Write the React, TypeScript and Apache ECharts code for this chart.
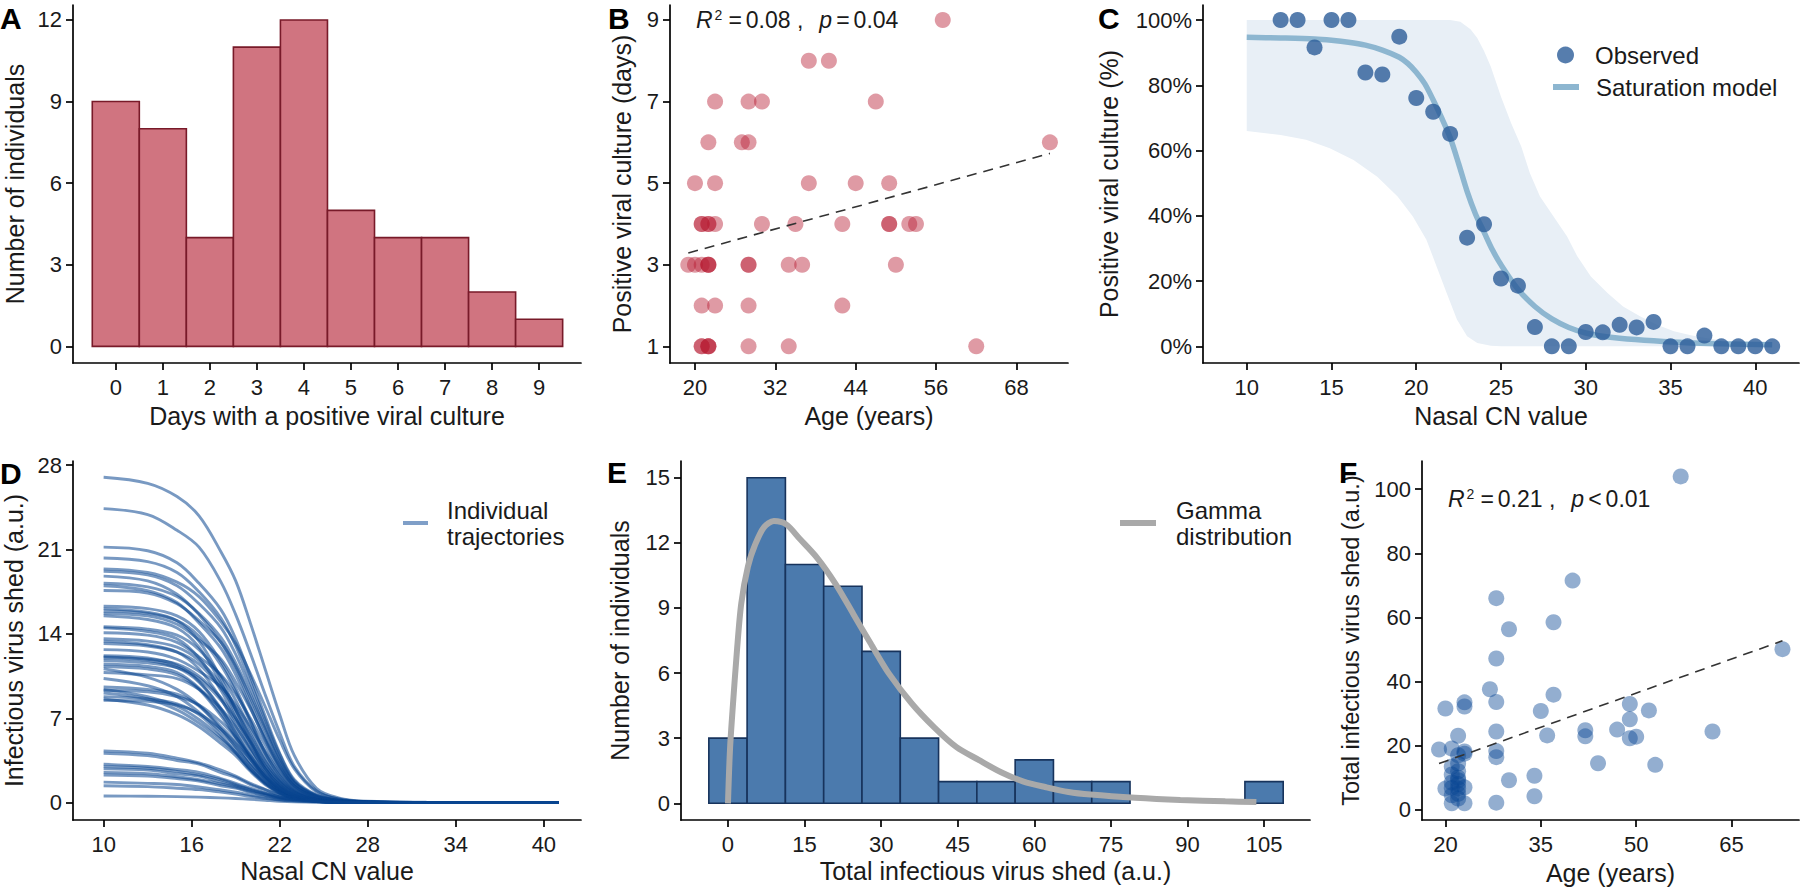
import React, { useEffect, useRef } from 'react';
import * as echarts from 'echarts';

// ---------------- Panel A: histogram of positive culture days
const daysA = [0, 1, 2, 3, 4, 5, 6, 7, 8, 9];
const countsA = [9, 8, 4, 11, 12, 5, 4, 4, 2, 1];
const binWidthA = 1;

// ---------------- Panel B: age vs positive culture days
const ageB = [
  21, 21, 22, 22, 22, 28, 34, 62,
  21, 23, 28, 42,
  19, 20, 21, 22, 22, 22, 28, 28, 34, 36, 50,
  21, 21, 22, 22, 23, 30, 35, 42, 49, 49, 52, 53,
  20, 23, 37, 44, 49,
  22, 27, 28, 73,
  23, 28, 30, 47,
  37, 40,
  57,
];
const daysB = [
  1, 1, 1, 1, 1, 1, 1, 1,
  2, 2, 2, 2,
  3, 3, 3, 3, 3, 3, 3, 3, 3, 3, 3,
  4, 4, 4, 4, 4, 4, 4, 4, 4, 4, 4, 4,
  5, 5, 5, 5, 5,
  6, 6, 6, 6,
  7, 7, 7, 7,
  8, 8,
  9,
];
const regLineB = [[19, 3.29], [73, 5.73]];

// ---------------- Panel C: culture positivity vs CN
const cnC = [12, 13, 14, 15, 16, 17, 18, 19, 20, 21, 22, 23, 24, 25, 26, 27, 28, 29, 30, 31, 32, 33, 34, 35, 36, 37, 38, 39, 40, 41];
const pctC = [100, 100, 91.6, 100, 100, 83.9, 83.3, 94.9, 76.1, 71.9, 65.1, 33.3, 37.4, 20.8, 18.6, 5.9, 0, 0, 4.4, 4.3, 6.6, 5.8, 7.5, 0, 0, 3.3, 0, 0, 0, 0];
const satModelC = [
  [10, 94.7], [12, 94.5], [14, 94.2], [15, 93.8], [16, 93.2], [17, 92.3], [18, 90.8], [19, 88.6],
  [19.5, 86.7], [20, 84.0], [20.5, 80.5], [21, 75.5], [21.5, 70.0], [22, 64.0], [22.5, 56.0],
  [23, 47.5], [23.5, 40.5], [24, 35.0], [24.5, 29.5], [25, 25.0], [26, 17.5], [27, 12.2],
  [28, 8.4], [29, 5.8], [30, 4.1], [31, 3.1], [32, 2.5], [34, 1.7], [36, 1.1], [38, 0.8], [41, 0.5],
];
const bandUpperC = [
  [10, 100], [22, 100], [22.6, 99.5], [23.2, 97.2], [23.6, 94.5], [24, 90.5], [24.4, 85.7], [25, 76.5],
  [25.6, 68.4], [26.2, 61.2], [26.7, 53.1], [27.3, 45.9], [28.1, 39.8], [28.9, 33.7], [29.5, 27.6],
  [30.3, 21.4], [31.3, 16.3], [32.2, 12.2], [33.2, 9.2], [34.2, 6.6], [35.2, 4.6], [36.2, 3.4],
  [37, 2.6], [38, 1.8], [40, 0.8], [41, 0.5],
];
const bandLowerC = [
  [10, 66.0], [12, 64.8], [13.5, 63.3], [14.9, 60.7], [16.3, 57.1], [17.7, 52.0], [18.9, 45.9],
  [19.8, 39.8], [20.6, 32.7], [21.2, 24.5], [21.8, 16.3], [22.4, 8.2], [23, 3.1], [23.6, 1.0],
  [24.4, 0.2], [25, 0], [41, 0],
];

// ---------------- Panel D: individual trajectories
const cnGridD = [10, 13, 15, 16.5, 18, 19, 20, 21, 22, 23, 24.5, 26, 28, 32, 41];
const curvesD = [
  [27.0, 26.5, 25.4, 23.8, 20.8, 18.4, 14.9, 11.1, 7.3, 3.9, 1.2, 0.4, 0.11, 0.03, 0],
  [24.4, 23.9, 22.6, 21.2, 18.3, 15.6, 12.4, 9.0, 5.8, 3.0, 1.0, 0.3, 0.08, 0.02, 0],
  [21.2, 20.9, 19.9, 18.2, 16.0, 13.6, 10.5, 7.2, 4.1, 1.9, 0.64, 0.21, 0.06, 0.01, 0],
  [20.3, 20.0, 19.1, 17.5, 15.3, 13.0, 10.0, 6.9, 4.0, 1.8, 0.6, 0.2, 0.06, 0.01, 0],
  [19.4, 19.1, 18.3, 17.1, 15.0, 13.2, 10.7, 8.0, 5.2, 2.8, 0.9, 0.3, 0.08, 0.02, 0],
  [19.2, 18.9, 18.0, 16.5, 14.5, 12.3, 9.5, 6.5, 3.7, 1.7, 0.58, 0.19, 0.06, 0.01, 0],
  [18.8, 18.4, 17.3, 15.6, 13.3, 11.1, 8.3, 5.5, 3.0, 1.4, 0.47, 0.15, 0.04, 0, 0],
  [18.2, 17.9, 17.1, 15.7, 13.7, 11.6, 9.0, 6.2, 3.5, 1.6, 0.55, 0.18, 0.05, 0.01, 0],
  [18.0, 17.6, 16.6, 14.9, 12.8, 10.6, 7.9, 5.2, 2.9, 1.35, 0.45, 0.14, 0.04, 0, 0],
  [17.6, 17.4, 16.5, 15.1, 13.3, 11.3, 8.7, 6.0, 3.4, 1.6, 0.53, 0.18, 0.05, 0.01, 0],
  [16.3, 16.1, 15.5, 14.2, 11.7, 9.5, 6.8, 4.2, 2.3, 1.06, 0.33, 0.11, 0.03, 0, 0],
  [16.1, 15.8, 15.1, 13.4, 10.3, 7.7, 5.2, 2.9, 1.45, 0.64, 0.19, 0.06, 0.02, 0, 0],
  [15.9, 15.7, 15.1, 13.8, 11.4, 9.2, 6.7, 4.1, 2.2, 1.03, 0.32, 0.11, 0.03, 0, 0],
  [15.7, 15.5, 14.8, 13.5, 11.9, 10.0, 7.8, 5.3, 3.1, 1.4, 0.47, 0.16, 0.05, 0, 0],
  [15.5, 15.2, 14.5, 12.9, 9.9, 7.4, 5.0, 2.8, 1.4, 0.62, 0.19, 0.06, 0.02, 0, 0],
  [14.6, 14.4, 13.9, 12.7, 10.5, 8.5, 6.1, 3.8, 2.0, 0.95, 0.29, 0.1, 0.03, 0, 0],
  [14.5, 14.2, 13.6, 12.0, 9.3, 7.0, 4.6, 2.6, 1.3, 0.58, 0.17, 0.06, 0.01, 0, 0],
  [14.1, 13.9, 13.3, 12.1, 10.6, 9.0, 7.0, 4.8, 2.7, 1.3, 0.42, 0.14, 0.04, 0, 0],
  [13.6, 13.4, 12.9, 11.8, 9.8, 7.9, 5.7, 3.5, 1.9, 0.88, 0.27, 0.1, 0.03, 0, 0],
  [13.4, 13.1, 12.5, 11.1, 8.6, 6.4, 4.3, 2.4, 1.2, 0.54, 0.16, 0.05, 0.01, 0, 0],
  [13.2, 13.0, 12.5, 11.5, 9.5, 7.7, 5.5, 3.4, 1.8, 0.86, 0.26, 0.09, 0.03, 0, 0],
  [12.7, 12.5, 11.9, 10.9, 9.6, 8.1, 6.3, 4.3, 2.5, 1.14, 0.38, 0.13, 0.04, 0, 0],
  [12.2, 12.0, 11.4, 10.1, 7.8, 5.9, 3.9, 2.2, 1.1, 0.49, 0.15, 0.05, 0.01, 0, 0],
  [12.1, 11.9, 11.5, 10.5, 8.7, 7.0, 5.1, 3.1, 1.7, 0.79, 0.24, 0.08, 0.02, 0, 0],
  [12.0, 11.8, 11.2, 10.0, 7.7, 5.8, 3.8, 2.2, 1.1, 0.48, 0.14, 0.05, 0.01, 0, 0],
  [11.8, 11.6, 11.2, 10.3, 8.5, 6.8, 5.0, 3.1, 1.65, 0.77, 0.24, 0.08, 0.02, 0, 0],
  [11.5, 11.3, 10.8, 9.5, 7.4, 5.5, 3.7, 2.1, 1.0, 0.46, 0.14, 0.05, 0.01, 0, 0],
  [11.3, 11.1, 10.6, 9.4, 7.2, 5.4, 3.6, 2.0, 1.0, 0.45, 0.14, 0.05, 0.01, 0, 0],
  [11.1, 10.4, 9.4, 8.1, 6.3, 5.0, 3.3, 2.0, 1.0, 0.44, 0.13, 0.04, 0.01, 0, 0],
  [10.8, 10.6, 10.3, 9.4, 7.8, 6.3, 4.5, 2.8, 1.5, 0.7, 0.22, 0.08, 0.02, 0, 0],
  [10.3, 9.7, 8.8, 7.5, 5.9, 4.6, 3.1, 1.9, 0.93, 0.41, 0.12, 0.04, 0.01, 0, 0],
  [9.6, 9.4, 9.0, 8.0, 6.1, 4.6, 3.1, 1.7, 0.86, 0.38, 0.12, 0.04, 0.01, 0, 0],
  [9.4, 8.8, 8.0, 6.9, 5.4, 4.2, 2.8, 1.7, 0.85, 0.38, 0.11, 0.04, 0.01, 0, 0],
  [9.3, 9.2, 8.8, 8.1, 6.7, 5.4, 3.9, 2.4, 1.3, 0.6, 0.19, 0.07, 0.02, 0, 0],
  [9.1, 8.6, 7.7, 6.6, 5.2, 4.1, 2.7, 1.6, 0.82, 0.36, 0.11, 0.04, 0.01, 0, 0],
  [8.8, 8.6, 8.2, 7.3, 5.6, 4.2, 2.8, 1.6, 0.79, 0.35, 0.11, 0.04, 0.01, 0, 0],
  [8.6, 8.1, 7.3, 6.3, 4.9, 3.9, 2.6, 1.5, 0.77, 0.34, 0.1, 0.03, 0.01, 0, 0],
  [8.5, 8.4, 8.1, 7.4, 6.1, 4.9, 3.6, 2.2, 1.2, 0.55, 0.17, 0.06, 0.02, 0, 0],
  [4.3, 4.1, 3.7, 3.3, 2.7, 2.2, 1.6, 1.1, 0.65, 0.43, 0.22, 0.09, 0.03, 0, 0],
  [4.1, 3.9, 3.5, 3.2, 2.5, 2.1, 1.5, 1.07, 0.62, 0.41, 0.2, 0.08, 0.02, 0, 0],
  [3.2, 3.0, 2.75, 2.5, 2.0, 1.6, 1.2, 0.83, 0.48, 0.32, 0.16, 0.06, 0.02, 0, 0],
  [3.0, 2.85, 2.6, 2.3, 1.9, 1.5, 1.1, 0.78, 0.45, 0.3, 0.15, 0.06, 0.02, 0, 0],
  [2.8, 2.7, 2.4, 2.2, 1.7, 1.4, 1.04, 0.73, 0.42, 0.28, 0.14, 0.06, 0.02, 0, 0],
  [2.5, 2.4, 2.15, 1.9, 1.55, 1.3, 0.93, 0.65, 0.38, 0.25, 0.13, 0.05, 0.02, 0, 0],
  [2.3, 2.2, 2.0, 1.8, 1.4, 1.2, 0.85, 0.6, 0.35, 0.23, 0.12, 0.05, 0.01, 0, 0],
  [1.7, 1.6, 1.5, 1.3, 1.05, 0.87, 0.63, 0.44, 0.26, 0.17, 0.09, 0.03, 0.01, 0, 0],
  [1.4, 1.33, 1.2, 1.08, 0.87, 0.71, 0.52, 0.36, 0.21, 0.14, 0.07, 0.03, 0.01, 0, 0],
  [0.55, 0.53, 0.5, 0.46, 0.4, 0.35, 0.28, 0.2, 0.12, 0.07, 0.03, 0.01, 0, 0, 0],
];

// ---------------- Panel E: histogram of total virus shed
const binCentersE = [0, 7.5, 15, 22.5, 30, 37.5, 45, 52.5, 60, 67.5, 75, 82.5, 90, 97.5, 105];
const countsE = [3, 15, 11, 10, 7, 3, 1, 1, 2, 1, 1, 0, 0, 0, 1];
const binWidthE = 7.5;
const gammaE = [
  [0, 0], [0.4, 2.5], [0.9, 4.3], [1.75, 7.0], [2.6, 9.2], [3.9, 10.9], [5.3, 11.9], [7, 12.7], [9, 13.0],
  [11.4, 12.85], [14, 12.2], [17.5, 11.3], [21.1, 10.1], [24.6, 8.7], [28.1, 7.3], [31.6, 5.95], [36, 4.6],
  [40.4, 3.5], [44.7, 2.6], [49.1, 2.0], [53.5, 1.43], [57.9, 1.0], [62.3, 0.74], [66.7, 0.52], [71, 0.4],
  [79.8, 0.25], [88.6, 0.15], [97.4, 0.09], [103.5, 0.06],
];

// ---------------- Panel F: age vs total virus shed
const ageF = [57, 40, 28, 37, 30, 28, 73, 27, 37, 28, 23, 23, 20, 35, 49, 52, 49, 28, 42, 42, 47, 62, 36, 49, 50, 22, 19, 21, 23, 28, 28, 22, 44, 53, 30, 34, 34, 28, 21, 23, 20, 21, 23, 22, 22, 22, 22, 22, 21, 22, 21, 21, 22, 23, 21, 22];
const totalF = [104, 71.5, 66, 58.5, 56.3, 47.2, 50.1, 37.6, 35.9, 33.6, 33.5, 32.2, 31.6, 30.8, 33.0, 31.0, 28.2, 24.4, 24.8, 22.9, 25.0, 24.4, 23.2, 22.3, 22.8, 23.1, 18.8, 19.1, 18.2, 18.3, 16.4, 17.0, 14.5, 14.0, 9.2, 10.6, 4.2, 2.2, 2.0, 2.0, 6.6, 6.8, 7.0, 5.0, 14.4, 12.0, 10.0, 8.0, 8.5, 6.6, 11.0, 13.5, 9.2, 17.5, 4.5, 3.5];
const regLineF = [[19, 14.4], [73, 52.7]];

// ---------------- styling
const FONT = "'Liberation Sans', Arial, Helvetica, sans-serif";
const TXT = '#1a1a1a';

function xAx(gridIndex: number, min: number, max: number, ticks: number[], name: string, nameGap: number, fmt?: string) {
  return {
    type: 'value', gridIndex, min, max,
    axisLine: { show: true, onZero: false, lineStyle: { color: '#000', width: 1.7 } },
    axisTick: { show: true, length: 7, customValues: ticks, lineStyle: { color: '#000', width: 1.7 } },
    axisLabel: { show: true, customValues: ticks, fontSize: 22, fontFamily: FONT, color: TXT, margin: 13, formatter: fmt },
    splitLine: { show: false },
    name, nameLocation: 'middle', nameGap,
    nameTextStyle: { fontSize: 25, fontFamily: FONT, color: TXT },
  };
}
function yAx(gridIndex: number, min: number, max: number, ticks: number[], name: string, nameGap: number, fmt?: string, nameSize = 25) {
  return {
    type: 'value', gridIndex, min, max,
    axisLine: { show: true, onZero: false, lineStyle: { color: '#000', width: 1.7 } },
    axisTick: { show: true, length: 7, customValues: ticks, lineStyle: { color: '#000', width: 1.7 } },
    axisLabel: { show: true, customValues: ticks, fontSize: 22, fontFamily: FONT, color: TXT, margin: 11, formatter: fmt },
    splitLine: { show: false },
    name, nameLocation: 'middle', nameGap,
    nameTextStyle: { fontSize: nameSize, fontFamily: FONT, color: TXT },
  };
}

function histSeries(idx: number, centers: number[], counts: number[], width: number, fill: string, stroke: string) {
  return {
    type: 'custom', xAxisIndex: idx, yAxisIndex: idx,
    data: centers.map((c, i) => [c, counts[i]]),
    encode: { x: 0, y: 1 },
    silent: true, z: 2,
    renderItem: (_p: any, api: any) => {
      const c = api.value(0);
      const n = api.value(1);
      if (!n) return { type: 'group', children: [] };
      const p0 = api.coord([c - width / 2, n]);
      const p1 = api.coord([c + width / 2, 0]);
      return {
        type: 'rect',
        shape: { x: p0[0], y: p0[1], width: p1[0] - p0[0], height: p1[1] - p0[1] },
        style: { fill, stroke, lineWidth: 1.6 },
      };
    },
  };
}

function r2Text(left: number, top: number, r2: string, rel: string, p: string) {
  const base = { fontSize: 23, fontFamily: FONT, fill: TXT };
  return {
    type: 'text', left, top, z: 100,
    style: {
      text: `{i|R}{s|2}{e|=}{n|${r2} ,}{g| }{i|p}{e|${rel}}{n|${p}}`,
      fill: TXT,
      rich: {
        i: { ...base, fontStyle: 'italic' },
        s: { fontSize: 14, fontFamily: FONT, fill: TXT, verticalAlign: 'top', lineHeight: 14, padding: [0, 2, 0, 2] },
        e: { ...base, padding: [0, 4, 0, 4] },
        n: { ...base },
        g: { ...base, width: 16 },
      },
    },
  };
}

function letter(t: string, left: number, top: number) {
  return { type: 'text', left, top, z: 100, style: { text: t, font: `bold 30px ${FONT}`, fill: '#000' } };
}

export default function App() {
  const ref = useRef<HTMLDivElement>(null);
  useEffect(() => {
    if (!ref.current) return;
    const chart = echarts.init(ref.current, null, { renderer: 'svg' });

    const curveSeries = curvesD.map((vals) => ({
      type: 'line', name: 'Individual trajectories', xAxisIndex: 3, yAxisIndex: 3,
      data: vals.map((v, i) => [cnGridD[i], v]),
      showSymbol: false, symbol: 'none', smooth: 0.35, silent: true, z: 2,
      lineStyle: { color: 'rgba(10,70,144,0.55)', width: 2.9 },
      itemStyle: { color: 'rgba(10,70,144,0.55)' },
    }));

    const legendText = { fontSize: 24, fontFamily: FONT, color: TXT };

    const option: any = {
      animation: false,
      backgroundColor: '#fff',
      grid: [
        { left: 73, top: 5, width: 508, height: 358, outerBoundsMode: 'none', containLabel: false },
        { left: 670, top: 5, width: 398, height: 358, outerBoundsMode: 'none', containLabel: false },
        { left: 1203, top: 5, width: 596, height: 358, outerBoundsMode: 'none', containLabel: false },
        { left: 73, top: 461, width: 508, height: 359, outerBoundsMode: 'none', containLabel: false },
        { left: 681, top: 461, width: 629, height: 359, outerBoundsMode: 'none', containLabel: false },
        { left: 1422, top: 461, width: 377, height: 359, outerBoundsMode: 'none', containLabel: false },
      ],
      xAxis: [
        xAx(0, -0.91, 9.89, daysA, 'Days with a positive viral culture', 40),
        xAx(1, 16.27, 75.7, [20, 32, 44, 56, 68], 'Age (years)', 40),
        xAx(2, 7.42, 42.58, [10, 15, 20, 25, 30, 35, 40], 'Nasal CN value', 40),
        xAx(3, 7.913, 42.53, [10, 16, 22, 28, 34, 40], 'Nasal CN value', 38),
        xAx(4, -9.2, 114, [0, 15, 30, 45, 60, 75, 90, 105], 'Total infectious virus shed (a.u.)', 38),
        xAx(5, 16.32, 75.6, [20, 35, 50, 65], 'Age (years)', 40),
      ],
      yAxis: [
        yAx(0, -0.61, 12.55, [0, 3, 6, 9, 12], 'Number of individuals', 46),
        yAx(1, 0.592, 9.367, [1, 3, 5, 7, 9], 'Positive viral culture (days)', 36),
        yAx(2, -5.1, 104.6, [0, 20, 40, 60, 80, 100], 'Positive viral culture (%)', 82, '{value}%'),
        yAx(3, -1.44, 28.35, [0, 7, 14, 21, 28], 'Infectious virus shed (a.u.)', 47),
        yAx(4, -0.77, 15.77, [0, 3, 6, 9, 12, 15], 'Number of individuals', 49),
        yAx(5, -3.2, 108.8, [0, 20, 40, 60, 80, 100], 'Total infectious virus shed (a.u.)', 59, undefined, 23.5),
      ],
      legend: [
        {
          data: [{ name: 'Observed', icon: 'circle', itemStyle: { color: '#2C5D98' } }],
          left: 1552, top: 38, itemWidth: 17, itemHeight: 17, selectedMode: false,
          textStyle: { ...legendText, padding: [0, 0, 0, 16] },
        },
        {
          data: [{ name: 'Saturation model', icon: 'rect', itemStyle: { color: '#8DB6D0' } }],
          left: 1548, top: 70, itemWidth: 26, itemHeight: 6, selectedMode: false,
          textStyle: { ...legendText, padding: [0, 0, 0, 12] },
        },
        {
          data: [{ name: 'Individual trajectories', icon: 'rect', itemStyle: { color: '#7F9FC8' } }],
          left: 398, top: 492, itemWidth: 25, itemHeight: 4, selectedMode: false,
          formatter: () => 'Individual\ntrajectories',
          textStyle: { ...legendText, lineHeight: 26, padding: [0, 0, 0, 14] },
        },
        {
          data: [{ name: 'Gamma distribution', icon: 'rect', itemStyle: { color: '#A9A9A9' } }],
          left: 1115, top: 492, itemWidth: 36, itemHeight: 6, selectedMode: false,
          formatter: () => 'Gamma\ndistribution',
          textStyle: { ...legendText, lineHeight: 26, padding: [0, 0, 0, 15] },
        },
      ],
      graphic: [
        letter('A', 0, 3),
        letter('B', 608, 3),
        letter('C', 1098, 3),
        letter('D', 0, 458),
        letter('E', 607, 457),
        letter('F', 1339, 457),
        r2Text(696, 8, '0.08', '=', '0.04'),
        r2Text(1448, 487, '0.21', '<', '0.01'),
      ],
      series: [
        // A
        histSeries(0, daysA, countsA, binWidthA, '#D07480', '#781A29'),
        // B
        {
          type: 'scatter', xAxisIndex: 1, yAxisIndex: 1, silent: true, z: 3,
          data: ageB.map((a, i) => [a, daysB[i]]),
          symbolSize: 16,
          itemStyle: { color: 'rgba(182,26,48,0.55)' },
        },
        {
          type: 'line', xAxisIndex: 1, yAxisIndex: 1, silent: true, z: 4,
          data: regLineB, symbol: 'none',
          lineStyle: { type: [10, 7], color: '#333', width: 1.6 },
        },
        // C
        {
          type: 'custom', xAxisIndex: 2, yAxisIndex: 2, silent: true, z: 1,
          data: [bandUpperC[0]],
          encode: { x: 0, y: 1 },
          renderItem: (_p: any, api: any) => {
            const pts = bandUpperC.map((p) => api.coord(p))
              .concat(bandLowerC.slice().reverse().map((p) => api.coord(p)));
            return { type: 'polygon', shape: { points: pts }, style: { fill: '#E8EFF6' } };
          },
        },
        {
          type: 'line', name: 'Saturation model', xAxisIndex: 2, yAxisIndex: 2, silent: true, z: 2,
          data: satModelC, symbol: 'none', smooth: 0.3,
          lineStyle: { color: '#8DB6D0', width: 5.5 },
          itemStyle: { color: '#8DB6D0' },
        },
        {
          type: 'scatter', name: 'Observed', xAxisIndex: 2, yAxisIndex: 2, silent: true, z: 3,
          data: cnC.map((c, i) => [c, pctC[i]]),
          symbolSize: 16,
          itemStyle: { color: '#2C5D98' },
        },
        // D
        ...curveSeries,
        // E
        histSeries(4, binCentersE, countsE, binWidthE, '#4B7AAD', '#17335C'),
        {
          type: 'line', name: 'Gamma distribution', xAxisIndex: 4, yAxisIndex: 4, silent: true, z: 3,
          data: gammaE, symbol: 'none', smooth: 0.3,
          lineStyle: { color: '#A9A9A9', width: 6 },
          itemStyle: { color: '#A9A9A9' },
        },
        // F
        {
          type: 'scatter', xAxisIndex: 5, yAxisIndex: 5, silent: true, z: 3,
          data: ageF.map((a, i) => [a, totalF[i]]),
          symbolSize: 16,
          itemStyle: { color: 'rgba(10,70,148,0.55)' },
        },
        {
          type: 'line', xAxisIndex: 5, yAxisIndex: 5, silent: true, z: 4,
          data: regLineF, symbol: 'none',
          lineStyle: { type: [10, 7], color: '#333', width: 1.6 },
        },
      ],
    };
    chart.setOption(option);
    return () => chart.dispose();
  }, []);

  return (
    <div
      ref={ref}
      style={{ position: 'fixed', left: 0, top: 0, width: 1800, height: 888, background: '#fff' }}
    />
  );
}
